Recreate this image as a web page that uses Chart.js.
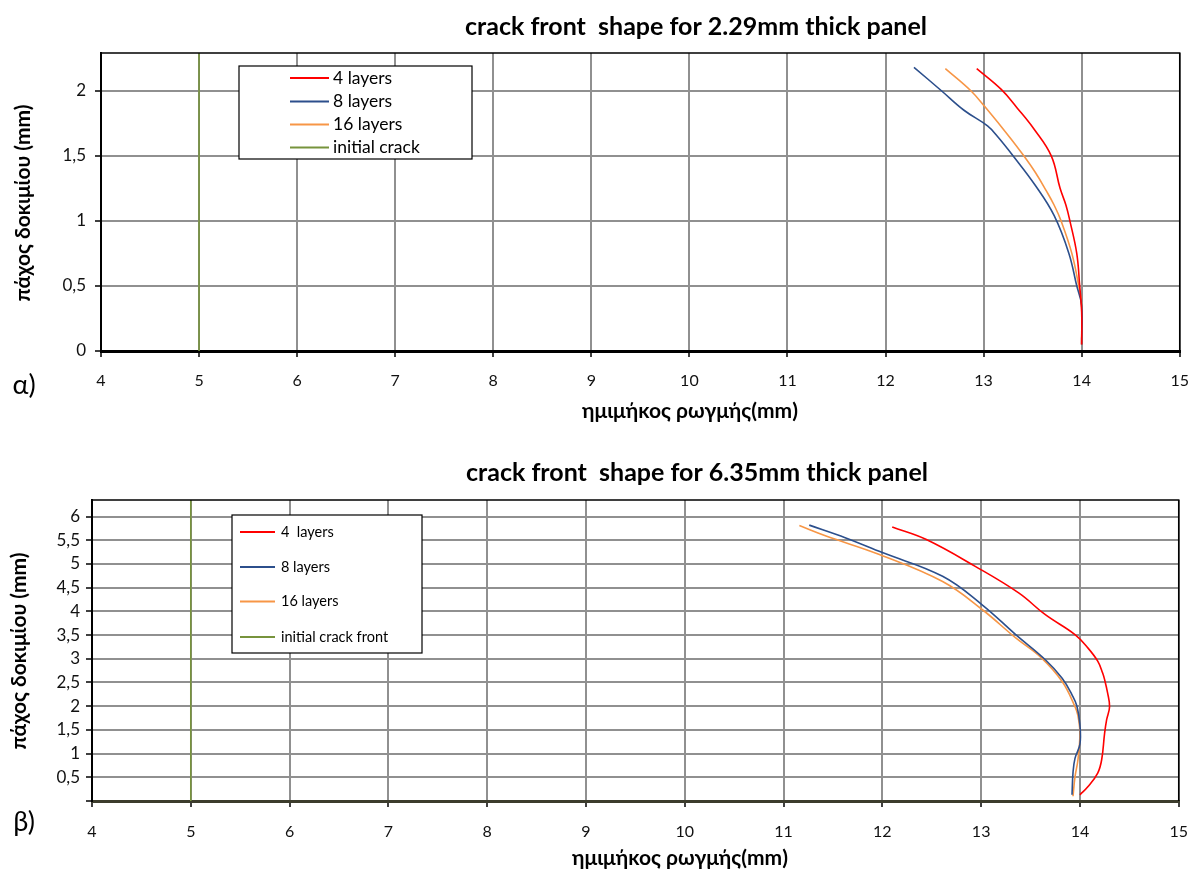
<!DOCTYPE html>
<html>
<head>
<meta charset="utf-8">
<script src="https://cdn.jsdelivr.net/npm/chart.js@4/dist/chart.umd.min.js"></script>
<style>
  body { margin: 0; background: #fff; }
  .panel { position: absolute; left: 0; }
</style>
</head>
<body>
<div class="panel" style="top:0"><canvas id="chartA" width="1203" height="435"></canvas></div>
<div class="panel" style="top:435px"><canvas id="chartB" width="1203" height="437"></canvas></div>
<script>
// axis ticks
const xTicks = [4, 5, 6, 7, 8, 9, 10, 11, 12, 13, 14, 15];
const yTicksA = [0, 0.5, 1, 1.5, 2];
const yTicksB = [0, 0.5, 1, 1.5, 2, 2.5, 3, 3.5, 4, 4.5, 5, 5.5, 6];

// 2.29mm panel: crack front [half length, thickness]
const thin4 = [[14.0, 0.05], [14.0, 0.3], [13.98, 0.5], [13.95, 0.75], [13.88, 1.0], [13.84, 1.12],
  [13.78, 1.25], [13.69, 1.5], [13.51, 1.71], [13.34, 1.87], [13.18, 2.01], [12.93, 2.17]];
const thin8 = [[14.0, 0.05], [14.0, 0.35], [13.95, 0.5], [13.87, 0.75], [13.72, 1.04], [13.53, 1.27],
  [13.29, 1.51], [13.14, 1.65], [13.04, 1.73], [12.8, 1.85], [12.57, 2.0], [12.29, 2.18]];
const thin16 = [[14.0, 0.05], [14.0, 0.35], [13.97, 0.5], [13.9, 0.75], [13.79, 1.0], [13.72, 1.12],
  [13.64, 1.23], [13.53, 1.37], [13.41, 1.5], [13.28, 1.63], [13.01, 1.88], [12.87, 2.0], [12.61, 2.17]];
const thinInitial = [[5, 0], [5, 2.29]];

// 6.35mm panel
const thick4 = [[14.0, 0.13], [14.08, 0.3], [14.18, 0.59], [14.22, 0.87], [14.25, 1.43], [14.27, 1.71],
  [14.3, 1.99], [14.28, 2.28], [14.25, 2.56], [14.23, 2.7], [14.18, 2.95], [14.08, 3.23], [13.95, 3.51],
  [13.65, 3.93], [13.38, 4.39], [12.94, 4.95], [12.44, 5.52], [12.1, 5.78]];
const thick8 = [[13.92, 0.13], [13.93, 0.6], [13.95, 0.9], [14.0, 1.2], [14.0, 1.6], [13.97, 2.0],
  [13.92, 2.24], [13.82, 2.59], [13.65, 2.98], [13.35, 3.51], [13.01, 4.14], [12.61, 4.74],
  [12.0, 5.24], [11.63, 5.55], [11.26, 5.82]];
const thick16 = [[13.93, 0.1], [13.95, 0.51], [13.98, 0.87], [14.0, 1.43], [13.98, 1.8], [13.95, 1.99],
  [13.82, 2.52], [13.61, 3.02], [13.35, 3.44], [13.01, 4.04], [12.61, 4.63], [11.97, 5.2],
  [11.43, 5.59], [11.16, 5.81]];
const thickInitial = [[5, 0], [5, 6.35]];

const RED = '#ff0000', BLUE = '#2c4f8c', ORANGE = '#f79646', GREEN = '#77933c';
const FONT = "Lato, 'Open Sans', sans-serif";

const pts = arr => arr.map(p => ({ x: p[0], y: p[1] }));
const series = (label, arr, color) => ({
  label, data: pts(arr), borderColor: color, backgroundColor: color,
  borderWidth: 1.6, pointRadius: 0, showLine: true, tension: 0.4, fill: false
});
const commaFmt = v => String(v).replace('.', ',');

// top and right edges of the plot frame
const frame = {
  id: 'frame',
  afterDatasetsDraw(chart) {
    const { ctx, chartArea: a } = chart;
    ctx.save();
    ctx.strokeStyle = '#000';
    ctx.lineWidth = 1.5;
    ctx.beginPath();
    ctx.moveTo(a.left, a.top);
    ctx.lineTo(a.right, a.top);
    ctx.lineTo(a.right, a.bottom);
    ctx.stroke();
    ctx.restore();
  }
};

// boxed legend inside the plot
const boxLegend = {
  id: 'boxLegend',
  afterDraw(chart, args, o) {
    const ctx = chart.ctx;
    ctx.save();
    ctx.fillStyle = '#fff';
    ctx.fillRect(o.box[0], o.box[1], o.box[2], o.box[3]);
    ctx.strokeStyle = '#000';
    ctx.lineWidth = 1.2;
    ctx.strokeRect(o.box[0], o.box[1], o.box[2], o.box[3]);
    ctx.font = o.size + 'px ' + FONT;
    ctx.textBaseline = 'middle';
    chart.data.datasets.forEach((ds, i) => {
      const y = o.rows[i];
      ctx.strokeStyle = ds.borderColor;
      ctx.lineWidth = 2;
      ctx.beginPath();
      ctx.moveTo(o.line[0], y);
      ctx.lineTo(o.line[1], y);
      ctx.stroke();
      ctx.fillStyle = '#000';
      ctx.fillText(ds.label, o.textX, y);
    });
    ctx.restore();
  }
};

// chart title, axis titles, panel letter
const texts = {
  id: 'texts',
  afterDraw(chart, args, o) {
    const ctx = chart.ctx;
    o.items.forEach(t => {
      ctx.save();
      ctx.font = t.font;
      ctx.fillStyle = '#000';
      ctx.textAlign = 'center';
      ctx.textBaseline = 'middle';
      ctx.translate(t.x, t.y);
      if (t.rot) ctx.rotate(t.rot);
      ctx.fillText(t.text, 0, 0);
      ctx.restore();
    });
  }
};

function makeChart(id, cfg) {
  return new Chart(document.getElementById(id), {
    type: 'scatter',
    data: { datasets: cfg.datasets },
    options: {
      responsive: false,
      animation: false,
      layout: { padding: cfg.padding },
      plugins: {
        legend: { display: false },
        tooltip: { enabled: false },
        boxLegend: cfg.legend,
        texts: { items: cfg.texts }
      },
      scales: {
        x: {
          type: 'linear', min: 4, max: 15,
          afterBuildTicks: s => { s.ticks = xTicks.map(v => ({ value: v })); },
          afterFit: s => { s.height = cfg.xHeight; },
          ticks: { font: { family: FONT, size: 16 }, color: '#111', padding: cfg.xPad, maxRotation: 0 },
          grid: { color: '#909090', lineWidth: 2, tickColor: '#000', tickLength: 6, tickWidth: 1.5 },
          border: { color: cfg.xAxisColor, width: 3 }
        },
        y: {
          type: 'linear', min: 0, max: cfg.yMax,
          afterBuildTicks: s => { s.ticks = cfg.yTicks.map(v => ({ value: v })); },
          afterFit: s => { s.width = cfg.yWidth; },
          ticks: {
            font: { family: FONT, size: 17 }, color: '#111', padding: cfg.yPad,
            callback: v => (v === 0 && cfg.hideZero) ? '' : commaFmt(v)
          },
          grid: { color: '#909090', lineWidth: 2, tickColor: '#000', tickLength: 6, tickWidth: 1.5 },
          border: { color: '#000', width: 2 }
        }
      }
    },
    plugins: [frame, boxLegend, texts]
  });
}

makeChart('chartA', {
  datasets: [
    series('4 layers', thin4, RED),
    series('8 layers', thin8, BLUE),
    series('16 layers', thin16, ORANGE),
    series('initial crack', thinInitial, GREEN)
  ],
  padding: { top: 53, right: 16, left: 0, bottom: 0 },
  xHeight: 84, yWidth: 101, xPad: 14, yPad: 9,
  yMax: 2.29, yTicks: yTicksA, hideZero: false, xAxisColor: '#000',
  legend: { box: [239, 66, 233, 93], rows: [78, 101.5, 124.5, 147.5], line: [290, 329], textX: 333, size: 17.5 },
  texts: [
    { text: 'crack front  shape for 2.29mm thick panel', x: 696, y: 27, font: 'bold 25px ' + FONT },
    { text: 'ημιμήκος ρωγμής(mm)', x: 690, y: 411, font: 'bold 21px ' + FONT },
    { text: 'πάχος δοκιμίου (mm)', x: 23, y: 203, font: 'bold 21px ' + FONT, rot: -Math.PI / 2 },
    { text: 'α)', x: 24, y: 385, font: '27px ' + FONT }
  ]
});

makeChart('chartB', {
  datasets: [
    series('4  layers', thick4, RED),
    series('8 layers', thick8, BLUE),
    series('16 layers', thick16, ORANGE),
    series('initial crack front', thickInitial, GREEN)
  ],
  padding: { top: 65, right: 19, left: 0, bottom: 0 },
  xHeight: 71, yWidth: 92, xPad: 15, yPad: 6,
  yMax: 6.35, yTicks: yTicksB, hideZero: true, xAxisColor: '#3c3c2c',
  legend: { box: [232, 80, 190, 138], rows: [97, 132, 166.5, 202], line: [240, 275], textX: 281, size: 14.5 },
  texts: [
    { text: 'crack front  shape for 6.35mm thick panel', x: 697, y: 38, font: 'bold 25px ' + FONT },
    { text: 'ημιμήκος ρωγμής(mm)', x: 680, y: 423, font: 'bold 21px ' + FONT },
    { text: 'πάχος δοκιμίου (mm)', x: 19, y: 216, font: 'bold 21px ' + FONT, rot: -Math.PI / 2 },
    { text: 'β)', x: 24, y: 387, font: '27px ' + FONT }
  ]
});
</script>
</body>
</html>
